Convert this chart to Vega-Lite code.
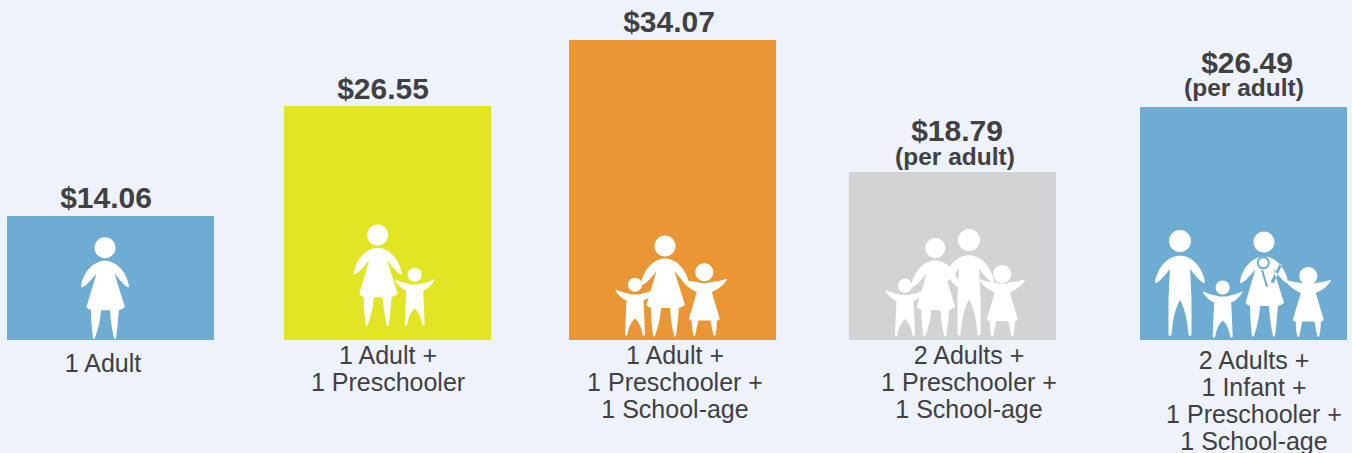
{
"$schema":"https://vega.github.io/schema/vega-lite/v6.json",
"width":1352,"height":453,"padding":0,"autosize":{"type":"none"},
"background":"#EEF3FB",
"config":{"view":{"stroke":null}},
"data":{"values":[
{"rank":1,"household":"1 Adult +0","label":"1 Adult","amount":14.06,"note":null},
{"rank":2,"household":"1 Adult +1","label":"1 Adult +\n1 Preschooler","amount":26.55,"note":null},
{"rank":3,"household":"1 Adult +2","label":"1 Adult +\n1 Preschooler +\n1 School-age","amount":34.07,"note":null},
{"rank":4,"household":"2 Adults +2","label":"2 Adults +\n1 Preschooler +\n1 School-age","amount":18.79,"note":"(per adult)"},
{"rank":5,"household":"2 Adults +3","label":"2 Adults +\n1 Infant +\n1 Preschooler +\n1 School-age","amount":26.49,"note":"(per adult)"}
]},
"resolve":{"scale":{"x":"independent","y":"independent","color":"independent","shape":"independent"}},
"layer":[
{"mark":{"type":"bar","width":207},
"encoding":{
"x":{"field":"rank","type":"quantitative","axis":null,"scale":{"domain":[1,2,3,4,5],"range":[110.5,387.5,672.5,952.5,1243.5],"padding":0}},
"y":{"field":"amount","type":"quantitative","axis":null,"scale":{"domain":[0,14.06,18.79,26.49,26.55,34.07],"range":[340,216,172,107,106,40]}},
"color":{"field":"household","type":"nominal","legend":null,"scale":{"domain":["1 Adult +0","1 Adult +1","1 Adult +2","2 Adults +2","2 Adults +3"],"range":["#6FACD4","#E2E523","#EA9635","#D1D3D5","#6FACD4"]}}
}},
{"mark":{"type":"point","filled":true,"color":"#FFFFFF","opacity":1,"size":4},
"encoding":{
"x":{"field":"rank","type":"quantitative","axis":null,"scale":{"domain":[1,2,3,4,5],"range":[110.5,387.5,672.5,952.5,1243.5],"padding":0}},
"y":{"datum":0,"type":"quantitative","axis":null,"scale":{"domain":[0,34.07],"range":[340,40]}},
"shape":{"field":"household","type":"nominal","legend":null,"scale":{"domain":["1 Adult +0","1 Adult +1","1 Adult +2","2 Adults +2","2 Adults +3"],"range":[
"M-5.5,-79.3c10,0 21,9.3 24,25.3q0,2 -2,1c-3,-2 -9,-9 -12.7,-13.7l10.7,33.7q-3,2.5 -6,3c-1,10 -2,22 -3,28q-1,2 -2,0c-2,-8 -3.5,-18 -4,-27.7l-9,0c-0.5,9.7 -3,19.7 -6,27.7q-1,2 -2,0c-1,-8 -2,-18 -2,-28q-3,-0.5 -4.5,-3l10,-33.7c-3.5,4.7 -9.5,11.7 -13.5,13.7q-2,1 -2,-1c3,-16 14,-25.3 24,-25.3zM-16,-92.3a10.5,10.5 0 1,1 21,0a10.5,10.5 0 1,1 -21,0z",
"M-9.8,-92.3c10,0 21,9.3 24,25.3q0,2 -2,1c-3,-2 -9,-9 -12.7,-13.7l10.7,33.7q-3,2.5 -6,3c-1,10 -2,22 -3,28q-1,2 -2,0c-2,-8 -3.5,-18 -4,-27.7l-9,0c-0.5,9.7 -3,19.7 -6,27.7q-1,2 -2,0c-1,-8 -2,-18 -2,-28q-3,-0.5 -4.5,-3l10,-33.7c-3.5,4.7 -9.5,11.7 -13.5,13.7q-2,1 -2,-1c3,-16 14,-25.3 24,-25.3zM-20.3,-105a10.5,10.5 0 1,1 21,0a10.5,10.5 0 1,1 -21,0zM27.2,-55.5c3,0 5,0 7,-1c4,-0.5 8,-2 12,-4q1,0 0.5,1c-2,4 -6,8 -11,10c0.5,10 1,22 1.5,34q-1,2.5 -2.5,0c-1,-6 -3,-12 -7.5,-16c-4.5,4 -6.5,10 -7.5,16q-1.5,2.5 -2.5,0c0.5,-12 1,-24 1.5,-34c-5,-2 -9,-6 -11,-10q-0.5,-1 0.5,-1c4,2 8,3.5 12,4c2,1 4,1 7,1zM20.2,-65.3a7,7 0 1,1 14,0a7,7 0 1,1 -14,0z",
"M-7.5,-81.5c10,0 21,9.3 24,25.3q0,2 -2,1c-3,-2 -9,-9 -12.7,-13.7l10.7,33.7q-3,2.5 -6,3c-1,10 -2,22 -3,28q-1,2 -2,0c-2,-8 -3.5,-18 -4,-27.7l-9,0c-0.5,9.7 -3,19.7 -6,27.7q-1,2 -2,0c-1,-8 -2,-18 -2,-28q-3,-0.5 -4.5,-3l10,-33.7c-3.5,4.7 -9.5,11.7 -13.5,13.7q-2,1 -2,-1c3,-16 14,-25.3 24,-25.3zM-18,-94a10.5,10.5 0 1,1 21,0a10.5,10.5 0 1,1 -21,0zM-37.5,-45.5c3,0 5,0 7,-1c4,-0.5 8,-2 12,-4q1,0 0.5,1c-2,4 -6,8 -11,10c0.5,10 1,22 1.5,34q-1,2.5 -2.5,0c-1,-6 -3,-12 -7.5,-16c-4.5,4 -6.5,10 -7.5,16q-1.5,2.5 -2.5,0c0.5,-12 1,-24 1.5,-34c-5,-2 -9,-6 -11,-10q-0.5,-1 0.5,-1c4,2 8,3.5 12,4c2,1 4,1 7,1zM-44.5,-55.3a7,7 0 1,1 14,0a7,7 0 1,1 -14,0zM31.8,-57c3,0 5,0 7,-1c5,-0.5 10,-1.5 15,-3q1,0 0.5,1c-3,5 -8,9 -15,12l8,27q-1,1 -3,2c0,5 -0.5,10 -1.5,14q-1,2 -2,0c-1,-5 -2,-10 -3,-14.5l-12,0c-1,4.5 -2,9.5 -3,14.5q-1,2 -2,0c-1,-4 -1.5,-9 -1.5,-14q-2,-1 -3,-2l8,-27c-7,-3 -12,-7 -15,-12q-0.5,-1 0.5,-1c5,1.5 10,2.5 15,3c2,1 4,1 7,1zM22.8,-67.7a9,9 0 1,1 18,0a9,9 0 1,1 -18,0z",
"M16.5,-84.8c11,0 22,10 25,26q0,2 -2,1c-3,-2 -9,-8 -13,-14c0.5,8 1,20 1.5,30c0,12 0,25 0,36q-1.5,2.5 -3,0c-1,-12 -3,-25 -8.5,-35c-5.5,10 -7.5,23 -8.5,35q-1.5,2.5 -3,0c0,-11 0,-24 0,-36c0.5,-10 1,-22 1.5,-30c-4,6 -10,12 -13,14q-2,1 -2,-1c3,-16 14,-26 25,-26zM5.5,-100a11,11 0 1,1 22,0a11,11 0 1,1 -22,0zM-17.2,-79.5c10,0 21,9.3 24,25.3q0,2 -2,1c-3,-2 -9,-9 -12.7,-13.7l10.7,33.7q-3,2.5 -6,3c-1,10 -2,20 -3,26q-1,2 -2,0c-2,-8 -3.5,-16 -4,-25.7l-9,0c-0.5,9 -3,18 -6,25.7q-1,2 -2,0c-1,-8 -2,-16 -2,-26q-3,-0.5 -4.5,-3l10,-33.7c-3.5,4.7 -9.5,11.7 -13.5,13.7q-2,1 -2,-1c3,-16 14,-25.3 24,-25.3zM-27.2,-92a10,10 0 1,1 20,0a10,10 0 1,1 -20,0zM-47.5,-45c3,0 5,0 7,-1c4,-0.5 8,-2 12,-4q1,0 0.5,1c-2,4 -6,8 -11,10c0.5,10 1,22 1.5,34q-1,2.5 -2.5,0c-1,-6 -3,-12 -7.5,-16c-4.5,4 -6.5,10 -7.5,16q-1.5,2.5 -2.5,0c0.5,-12 1,-24 1.5,-34c-5,-2 -9,-6 -11,-10q-0.5,-1 0.5,-1c4,2 8,3.5 12,4c2,1 4,1 7,1zM-54.5,-54.3a7,7 0 1,1 14,0a7,7 0 1,1 -14,0zM49.8,-56.5c3,0 5,0 7,-1c5,-0.5 10,-1.5 15,-3q1,0 0.5,1c-3,5 -8,9 -15,12l8,27q-1,1 -3,2c0,5 -0.5,10 -1.5,14q-1,2 -2,0c-1,-5 -2,-10 -3,-14.5l-12,0c-1,4.5 -2,9.5 -3,14.5q-1,2 -2,0c-1,-4 -1.5,-9 -1.5,-14q-2,-1 -3,-2l8,-27c-7,-3 -12,-7 -15,-12q-0.5,-1 0.5,-1c5,1.5 10,2.5 15,3c2,1 4,1 7,1zM40.8,-66a9,9 0 1,1 18,0a9,9 0 1,1 -18,0z",
"M-63.5,-84.3c11,0 22,10 25,26q0,2 -2,1c-3,-2 -9,-8 -13,-14c0.5,8 1,20 1.5,30c0,12 0,25 0,36q-1.5,2.5 -3,0c-1,-12 -3,-25 -8.5,-35c-5.5,10 -7.5,23 -8.5,35q-1.5,2.5 -3,0c0,-11 0,-24 0,-36c0.5,-10 1,-22 1.5,-30c-4,6 -10,12 -13,14q-2,1 -2,-1c3,-16 14,-26 25,-26zM-74.5,-99a11,11 0 1,1 22,0a11,11 0 1,1 -22,0zM20.5,-83.5c10,0 21,9.3 24,25.3q0,2 -2,1c-3,-2 -9,-9 -12.7,-13.7l10.7,33.7q-3,2.5 -6,3c-1,10 -2,24 -3,30q-1,2 -2,0c-2,-8 -3.5,-20 -4,-29.7l-9,0c-0.5,9.7 -3,21.7 -6,29.7q-1,2 -2,0c-1,-8 -2,-20 -2,-30q-3,-0.5 -4.5,-3l10,-33.7c-3.5,4.7 -9.5,11.7 -13.5,13.7q-2,1 -2,-1c3,-16 14,-25.3 24,-25.3zM10,-98a10.5,10.5 0 1,1 21,0a10.5,10.5 0 1,1 -21,0zM13.3,-77.3a6.5,6.5 0 1,0 13,0a6.5,6.5 0 1,0 -13,0zM15.3,-77.3a4.5,4.5 0 1,1 9,0a4.5,4.5 0 1,1 -9,0zM36,-76L27,-58L30,-56.5L38.5,-75zM17.5,-70L22.5,-53L24.5,-53.5L19.5,-70.5zM-20.8,-43.5c3,0 5,0 7,-1c4,-0.5 8,-2 12,-4q1,0 0.5,1c-2,4 -6,8 -11,10c0.5,10 1,22 1.5,34q-1,2.5 -2.5,0c-1,-6 -3,-12 -7.5,-16c-4.5,4 -6.5,10 -7.5,16q-1.5,2.5 -2.5,0c0.5,-12 1,-24 1.5,-34c-5,-2 -9,-6 -11,-10q-0.5,-1 0.5,-1c4,2 8,3.5 12,4c2,1 4,1 7,1zM-27.8,-52.5a7,7 0 1,1 14,0a7,7 0 1,1 -14,0zM64.8,-56c3,0 5,0 7,-1c5,-0.5 10,-1.5 15,-3q1,0 0.5,1c-3,5 -8,9 -15,12l8,27q-1,1 -3,2c0,5 -0.5,10 -1.5,14q-1,2 -2,0c-1,-5 -2,-10 -3,-14.5l-12,0c-1,4.5 -2,9.5 -3,14.5q-1,2 -2,0c-1,-4 -1.5,-9 -1.5,-14q-2,-1 -3,-2l8,-27c-7,-3 -12,-7 -15,-12q-0.5,-1 0.5,-1c5,1.5 10,2.5 15,3c2,1 4,1 7,1zM55.8,-64a9,9 0 1,1 18,0a9,9 0 1,1 -18,0z"
]}}
}},
{"mark":{"type":"text","font":"Liberation Sans","fontWeight":"bold","fontSize":30,"color":"#414042","align":"center","baseline":"alphabetic"},
"encoding":{
"x":{"field":"rank","type":"quantitative","axis":null,"scale":{"domain":[1,2,3,4,5],"range":[106,383,669,957,1247]}},
"y":{"field":"rank","type":"quantitative","axis":null,"scale":{"domain":[1,2,3,4,5],"range":[208,99,32,141,73]}},
"text":{"field":"amount","type":"quantitative","format":"$.2f"}
}},
{"transform":[{"filter":"datum.note != null"}],
"mark":{"type":"text","font":"Liberation Sans","fontWeight":"bold","fontSize":24.5,"color":"#414042","align":"center","baseline":"alphabetic"},
"encoding":{
"x":{"field":"rank","type":"quantitative","axis":null,"scale":{"domain":[4,5],"range":[955,1244]}},
"y":{"field":"rank","type":"quantitative","axis":null,"scale":{"domain":[4,5],"range":[165,96]}},
"text":{"field":"note","type":"nominal"}
}},
{"mark":{"type":"text","font":"Liberation Sans","fontSize":25,"color":"#414042","align":"center","baseline":"alphabetic","lineBreak":"\n","lineHeight":27},
"encoding":{
"x":{"field":"rank","type":"quantitative","axis":null,"scale":{"domain":[1,2,3,4,5],"range":[103,388,675,969,1254]}},
"y":{"field":"rank","type":"quantitative","axis":null,"scale":{"domain":[1,2,3,4,5],"range":[372,363.5,363.5,364,369]}},
"text":{"field":"label","type":"nominal"}
}}
]
}
